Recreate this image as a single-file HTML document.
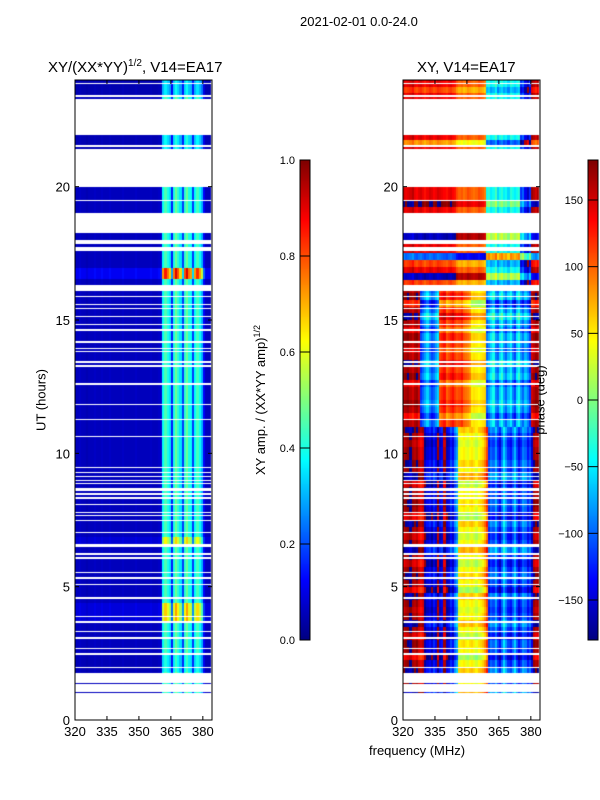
<!DOCTYPE html>
<html><head><meta charset="utf-8"><style>
body{margin:0;background:#fff;font-family:"Liberation Sans",sans-serif;}
#wrap{position:relative;width:600px;height:800px;overflow:hidden;background:#fff}
.t{position:absolute;color:#000;white-space:nowrap}
canvas{position:absolute}
</style></head><body>
<div id="wrap">
<div class="t" style="left:300px;top:14px;font-size:13px">2021-02-01 0.0-24.0</div>
<div class="t" style="left:48px;top:58px;font-size:15px">XY/(XX*YY)<sup style="font-size:10px">1/2</sup>, V14=EA17</div>
<div class="t" style="left:417px;top:59px;font-size:15px">XY, V14=EA17</div>
<div class="t" style="left:41px;top:400px;font-size:13px;transform:translate(-50%,-50%) rotate(-90deg)">UT (hours)</div>
<div class="t" style="left:369px;top:743px;font-size:13px">frequency (MHz)</div>
<div class="t" style="left:260px;top:400px;font-size:13px;transform:translate(-50%,-50%) rotate(-90deg)">XY amp. / (XX*YY amp)<sup style="font-size:9px">1/2</sup></div>
<div class="t" style="left:540px;top:400px;font-size:13px;transform:translate(-50%,-50%) rotate(-90deg)">phase (deg)</div>
<canvas id="c1" width="137" height="640" style="left:75px;top:80px"></canvas>
<canvas id="c2" width="137" height="640" style="left:403px;top:80px"></canvas>
<canvas id="cb1" width="10" height="480" style="left:300px;top:160px"></canvas>
<canvas id="cb2" width="10" height="480" style="left:588px;top:160px"></canvas>
<svg id="ov" width="600" height="800" style="position:absolute;left:0;top:0"></svg>
</div>
<script>
// ---- data ----
const segments=[[23.28,23.34],[23.47,24.0],[21.4,21.97],[19.0,20.0],[18.0,18.25],[17.75,17.85],[16.3,17.6],[1.76,16.1],[1.37,1.41],[0.99,1.03]];
const gaps=[23.9,23.8,21.6,21.52,19.8,19.5,19.35,17.3,17.0,16.75,15.9,15.6,15.45,15.15,14.85,14.62,14.17,13.91,13.84,13.42,13.27,12.64,12.56,11.81,11.3,10.65,9.49,9.3,9.11,8.96,8.89,8.7,8.62,8.47,8.32,8.06,7.76,7.69,7.46,7.01,6.6,6.52,6.22,6.07,5.51,5.32,5.1,4.57,3.86,3.67,3.31,3.08,2.68,2.47,1.99];
const ampProfile=[0.06,0.06,0.07,0.06,0.06,0.05,0.06,0.06,0.06,0.07,0.06,0.06,0.07,0.06,0.06,0.06,0.07,0.06,0.06,0.06,0.06,0.06,0.07,0.06,0.06,0.06,0.06,0.06,0.07,0.06,0.06,0.06,0.06,0.06,0.06,0.07,0.06,0.06,0.06,0.07,0.08,0.38,0.45,0.4,0.35,0.15,0.4,0.48,0.42,0.35,0.18,0.42,0.48,0.4,0.38,0.18,0.38,0.44,0.38,0.3,0.12,0.06,0.06,0.06];
const ampGainBlocks=[[16.55,16.95,1.9],[3.7,4.4,1.5],[6.55,6.85,1.4],[23.4,24,0.8],[21.4,22,0.85],[1.76,2.5,0.9]];
const phaseLow=[160,170,175,-175,165,160,170,150,140,150,-170,-150,-140,-160,-130,-150,170,-150,-140,160,-160,-150,-120,-140,-100,-80,40,45,50,40,35,45,50,40,30,45,50,60,80,110,-120,-100,-110,-80,-120,-140,-100,-60,-90,-120,-130,-100,-70,-110,-140,-120,-90,-100,-130,-110,-150,170,160,165];
const phaseMid=[160,165,170,160,150,165,170,150,-120,-100,-80,-60,-90,-110,-100,-80,-60,110,120,130,100,110,120,130,115,105,110,120,100,95,90,80,50,55,50,45,50,55,60,-100,-80,-60,-40,-90,-100,-60,-40,-80,-100,-70,-50,-90,-110,-60,-40,-80,-100,-70,-90,-120,150,160,170,165];
const phaseTop=[150,140,145,150,160,140,135,145,150,140,130,140,150,145,135,140,150,145,140,135,130,140,145,135,130,110,100,105,95,100,110,105,100,95,100,110,105,100,90,-40,-30,-50,-40,-20,-60,-40,-30,-50,-40,-60,-30,-40,-50,-40,-30,-120,-100,-140,-160,-120,170,160,150,165];
const phaseRowOffset=[0,10,-10,0,30,0,-15,20,0,-30,0,10,-20,0,25,0,-10,0,20,-30,0,15,0,-20,0,30,0,-15,0,20,-25,0,10,0,0,-20,30,0,15,0,0,-10,0,20,0,-30,0,10,0,0,-20,15,0,25,0,-15,0,10,-20,0,30,0,-40,15,0,-30,60,0,-30,120,0,0,60,0,-120,0,0,40,0,0,0,-90,150,0,0,0,-60,0,30,0,0,0,70,0,-30,0];
const ampTicks=[0.0,0.2,0.4,0.6,0.8,1.0];
const phaseTicks=[-150,-100,-50,0,50,100,150];
const xTicks=[320,335,350,365,380];
const yTicks=[0,5,10,15,20];
// ---- scales ----
const PW=137,PH=640,F0=320,F1=384.3,NCH=64,DT=0.05;
const xs=f=>(f-F0)/(F1-F0)*PW;
const ys=h=>PH-h/24*PH;
function jet(v){v=Math.max(0,Math.min(1,v));const r=Math.max(0,Math.min(1,1.5-Math.abs(4*v-3))),g=Math.max(0,Math.min(1,1.5-Math.abs(4*v-2))),b=Math.max(0,Math.min(1,1.5-Math.abs(4*v-1)));return`rgb(${r*255|0},${g*255|0},${b*255|0})`;}
const hasData=h=>segments.some(s=>h>=s[0]&&h<s[1])&&!gaps.some(g=>h>=g-0.025&&h<g+0.025);
function gain(h){for(const b of ampGainBlocks)if(h>=b[0]&&h<b[1])return b[2];return 1;}
function wrap(p){while(p>180)p-=360;while(p<-180)p+=360;return p;}
const c1=document.getElementById('c1').getContext('2d'),c2=document.getElementById('c2').getContext('2d');
c1.imageSmoothingEnabled=false;c2.imageSmoothingEnabled=false;
for(let i=0;i<480;i++){
  const h=i*DT;
  if(!hasData(h+DT/2))continue;
  const y0=Math.round(ys(h+DT)),y1=Math.round(ys(h));
  if(y1<=y0)continue;
  const prof=h<11?phaseLow:(h<16.2?phaseMid:phaseTop);
  const off=phaseRowOffset[Math.min(95,Math.floor(h/0.25))];
  for(let c=0;c<NCH;c++){
    const x0=Math.round(xs(F0+c)),x1=Math.round(xs(F0+c+1));
    c1.fillStyle=jet(ampProfile[c]*gain(h));
    c1.fillRect(x0,y0,x1-x0,y1-y0);
    c2.fillStyle=jet((wrap(prof[c]+off)+180)/360);
    c2.fillRect(x0,y0,x1-x0,y1-y0);
  }
}
// colorbars
for(const id of['cb1','cb2']){const g=document.getElementById(id).getContext('2d');for(let i=0;i<480;i++){g.fillStyle=jet(1-i/480);g.fillRect(0,i,10,1);}}
// ---- overlay ----
const NS='http://www.w3.org/2000/svg',ov=document.getElementById('ov');
function mk(tag,at,txt){const e=document.createElementNS(NS,tag);for(const k in at)e.setAttribute(k,at[k]);if(txt!==undefined)e.textContent=txt;ov.appendChild(e);return e;}
for(const [px,name] of [[75,'amp'],[403,'phase']]){
  const fr=mk('rect',{x:px,y:80,width:PW,height:PH,fill:'none',stroke:'#000','stroke-width':1});
  
  
  for(const t of xTicks){const x=px+xs(t);
    mk('line',{x1:x,x2:x,y1:720,y2:716,stroke:'#000'});mk('line',{x1:x,x2:x,y1:80,y2:84,stroke:'#000'});
    const l=mk('text',{x:x,y:736,'font-size':13,'text-anchor':'middle','font-family':'Liberation Sans'},t);
    
    }
  for(const t of yTicks){const y=80+ys(t);
    mk('line',{x1:px,x2:px+4,y1:y,y2:y,stroke:'#000'});mk('line',{x1:px+PW,x2:px+PW-4,y1:y,y2:y,stroke:'#000'});
    const l=mk('text',{x:px-5,y:y+5,'font-size':13,'text-anchor':'end','font-family':'Liberation Sans'},t);
    
    }
}
function cbar(x,ticks,lo,hi,fmt,name){
  mk('rect',{x:x,y:160,width:10,height:480,fill:'none',stroke:'#000'});
  for(const t of ticks){const y=640-(t-lo)/(hi-lo)*480;
    mk('line',{x1:x,x2:x+10,y1:y,y2:y,stroke:'#000'});
    const l=mk('text',{x:x-5,y:y+4,'font-size':11,'text-anchor':'end','font-family':'Liberation Sans'},fmt(t));
    
    }
}
cbar(300,ampTicks,0,1,t=>t.toFixed(1),'amp-colorbar');
cbar(588,phaseTicks,-180,180,t=>t<0?'\u2212'+(-t):String(t),'phase-colorbar');
</script>
</body></html>
